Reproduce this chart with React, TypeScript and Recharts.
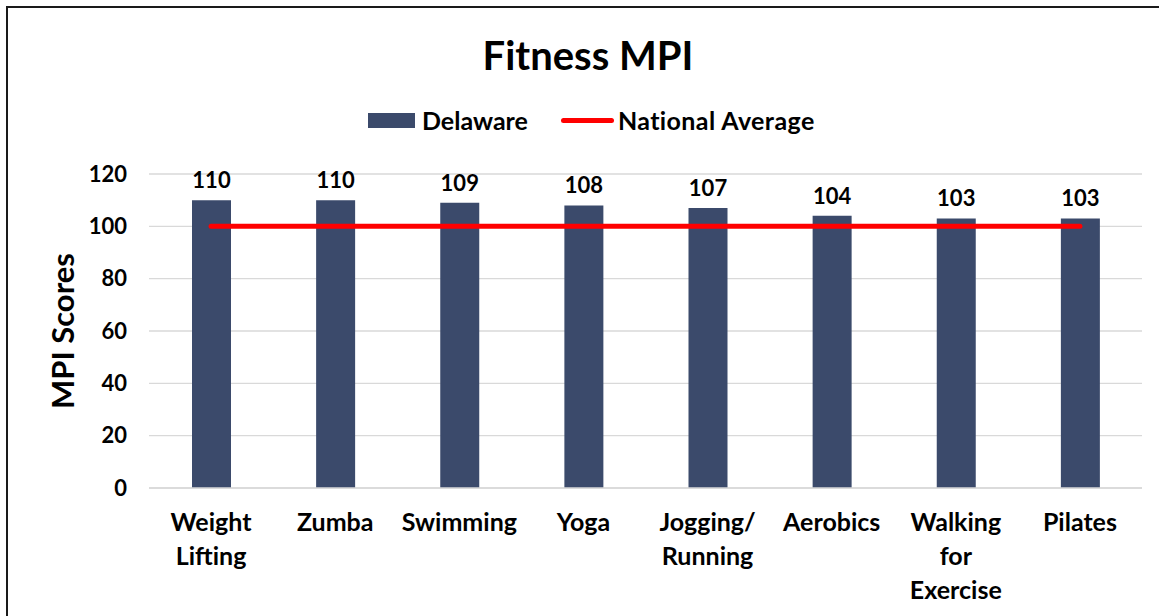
import React from 'react'
import {
  Bar,
  CartesianGrid,
  ComposedChart,
  Label,
  LabelList,
  Line,
  XAxis,
  YAxis,
} from 'recharts'

const FONT = 'Lato, "Open Sans", sans-serif'

const categories = [
  'Weight\nLifting',
  'Zumba',
  'Swimming',
  'Yoga',
  'Jogging/\nRunning',
  'Aerobics',
  'Walking\nfor\nExercise',
  'Pilates',
]
const delaware = [110, 110, 109, 108, 107, 104, 103, 103]
const nationalAverage = [100, 100, 100, 100, 100, 100, 100, 100]
const yTicks = [0, 20, 40, 60, 80, 100, 120]

const data = categories.map((name, i) => ({
  name,
  delaware: delaware[i],
  national: nationalAverage[i],
}))

const BAR_COLOR = '#3B4A6B'
const LINE_COLOR = '#FF0000'

const CategoryTick = (props: any) => {
  const { x, y, payload } = props
  const lines = String(payload.value).split('\n')
  return (
    <text
      x={x}
      y={y + 43}
      textAnchor="middle"
      fontSize={25}
      fontWeight={700}
      fontFamily={FONT}
      fill="#000"
    >
      {lines.map((line, i) => (
        <tspan key={i} x={x} dy={i === 0 ? 0 : 34}>
          {line}
        </tspan>
      ))}
    </text>
  )
}

const AxisTitle = (props: any) => {
  const { viewBox } = props
  const cx = 62
  const cy = viewBox.y + viewBox.height / 2
  return (
    <text
      x={cx}
      y={cy}
      transform={`rotate(-90, ${cx}, ${cy})`}
      textAnchor="middle"
      dominantBaseline="central"
      fontSize={31}
      fontWeight={700}
      fontFamily={FONT}
      fill="#000"
    >
      MPI Scores
    </text>
  )
}

export default function App() {
  return (
    <div
      style={{
        position: 'absolute',
        left: 0,
        top: 0,
        width: 1159,
        height: 616,
        background: '#fff',
        overflow: 'hidden',
        fontFamily: FONT,
      }}
    >
      <div
        style={{
          position: 'absolute',
          left: 6,
          top: 6,
          width: 1200,
          height: 700,
          borderTop: '2px solid #1a1a1a',
          borderLeft: '2px solid #1a1a1a',
        }}
      />
      <div
        style={{
          position: 'absolute',
          left: 0,
          width: 1176,
          top: 32,
          textAlign: 'center',
          fontSize: 40,
          fontWeight: 700,
          color: '#000',
          lineHeight: '46px',
        }}
      >
        Fitness MPI
      </div>
      <div
        style={{
          position: 'absolute',
          top: 104,
          left: 368,
          display: 'flex',
          alignItems: 'center',
          fontSize: 25,
          fontWeight: 700,
          color: '#000',
          height: 32,
        }}
      >
        <span
          style={{
            display: 'inline-block',
            width: 47,
            height: 15,
            background: BAR_COLOR,
            marginRight: 7,
          }}
        />
        <span>Delaware</span>
        <span
          style={{
            display: 'inline-block',
            width: 53,
            height: 5,
            borderRadius: 3,
            background: LINE_COLOR,
            marginLeft: 33,
            marginRight: 4,
          }}
        />
        <span style={{ letterSpacing: 0.4 }}>National Average</span>
      </div>
      <div style={{ position: 'absolute', left: 0, top: 0 }}>
        <ComposedChart
          width={1159}
          height={616}
          data={data}
          margin={{ top: 174, right: 17, bottom: 0, left: 0 }}
          barCategoryGap="0%"
        >
          <CartesianGrid
            vertical={false}
            stroke="#d9d9d9"
            strokeWidth={1.3}
          />
          <XAxis
            dataKey="name"
            axisLine={{ stroke: '#d9d9d9', strokeWidth: 1.3 }}
            tickLine={false}
            tickSize={0}
            tickMargin={0}
            interval={0}
            height={128}
            tick={<CategoryTick />}
          />
          <YAxis
            width={149}
            domain={[0, 120]}
            ticks={yTicks}
            axisLine={false}
            tickLine={false}
            tickSize={0}
            tickMargin={22}
            tick={{
              fontSize: 22,
              fontWeight: 700,
              fill: '#000',
              fontFamily: FONT,
            }}
          >
            <Label content={<AxisTitle />} />
          </YAxis>
          <Bar
            dataKey="delaware"
            name="Delaware"
            fill={BAR_COLOR}
            barSize={39}
            isAnimationActive={false}
          >
            <LabelList
              dataKey="delaware"
              position="top"
              offset={12}
              fill="#000"
              fontSize={22}
              fontWeight={700}
              fontFamily={FONT}
            />
          </Bar>
          <Line
            dataKey="national"
            name="National Average"
            type="linear"
            stroke={LINE_COLOR}
            strokeWidth={5}
            strokeLinecap="round"
            dot={false}
            activeDot={false}
            isAnimationActive={false}
          />
        </ComposedChart>
      </div>
    </div>
  )
}
